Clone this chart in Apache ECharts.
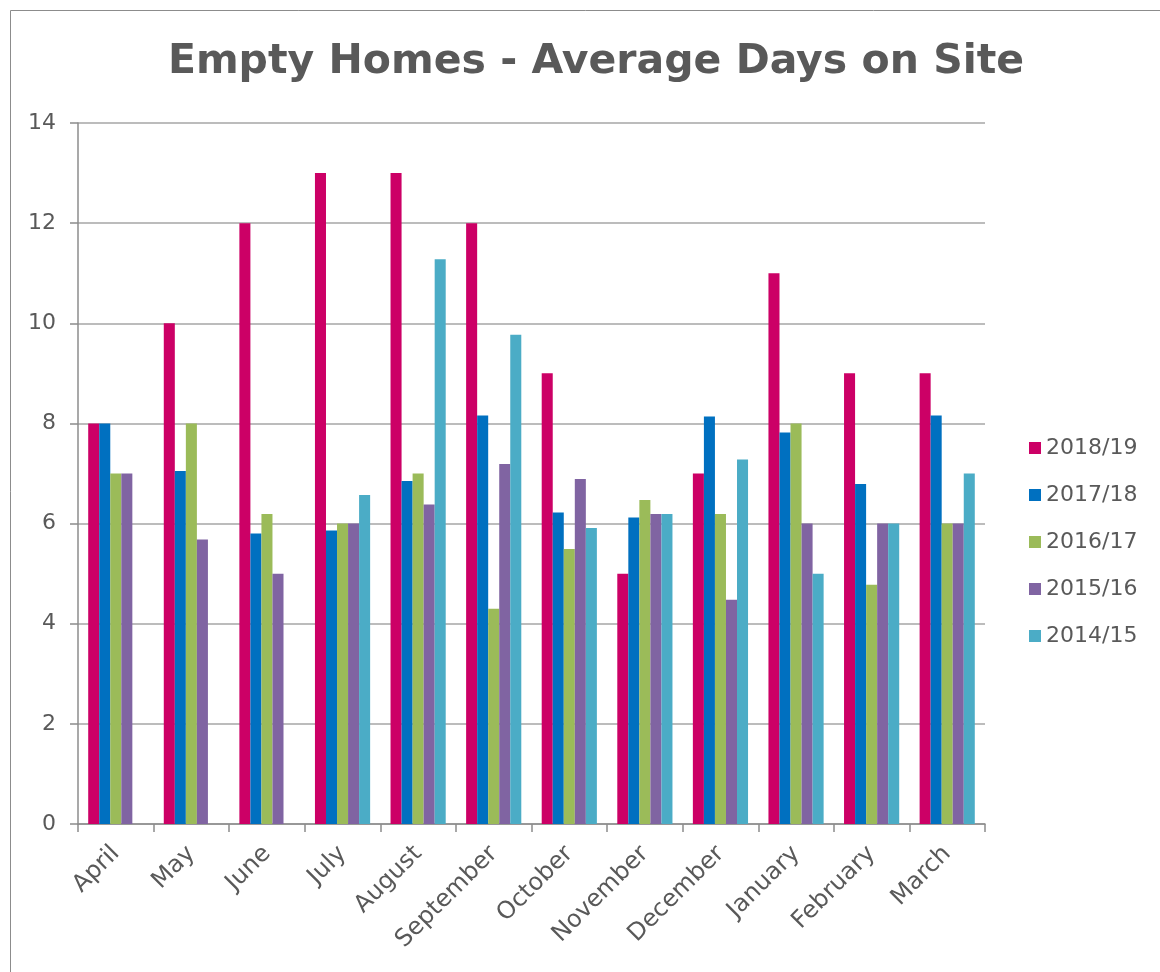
<!DOCTYPE html>
<html>
<head>
    <meta charset="utf-8">
    <title>Empty Homes - Average Days on Site</title>
    <script src="https://cdn.jsdelivr.net/npm/echarts@6.0.0/dist/echarts.min.js"></script>
    <style>
        body { margin: 0; background: #fff; }
    </style>
</head>
<body>
    <div id="main" style="width: 1160px;height:972px;"></div>
    <script type="text/javascript">
        // months and series values
        var months = ['April', 'May', 'June', 'July', 'August', 'September', 'October', 'November', 'December', 'January', 'February', 'March'];
        var y2018 = [8, 10, 12, 13, 13, 12, 9, 5, 7, 11, 9, 9];
        var y2017 = [8, 7.05, 5.8, 5.86, 6.85, 8.16, 6.22, 6.12, 8.14, 7.82, 6.79, 8.16];
        var y2016 = [7, 8, 6.19, 6, 7, 4.3, 5.49, 6.47, 6.19, 8, 4.78, 6];
        var y2015 = [7, 5.68, 5, 6, 6.38, 7.19, 6.89, 6.19, 4.48, 6, 6, 6];
        var y2014 = ['-', '-', '-', 6.57, 11.28, 9.77, 5.91, 6.19, 7.28, 5, 6, 7];
        var seriesNames = ['2018/19', '2017/18', '2016/17', '2015/16', '2014/15'];
        var colors = ['#CC0066', '#0070C0', '#9BBB59', '#8064A2', '#4BACC6'];

        var myChart = echarts.init(document.getElementById('main'));
        var font = '"DejaVu Sans", sans-serif';
        var textColor = '#595959';

        var option = {
            color: colors,
            backgroundColor: '#fff',
            title: {
                text: 'Empty Homes - Average Days on Site',
                left: 591,
                top: 37,
                textAlign: 'center',
                textStyle: { color: textColor, fontSize: 41, fontWeight: 'bold', fontFamily: font }
            },
            graphic: [{
                type: 'rect',
                shape: { x: 10.5, y: 10.5, width: 1200, height: 1000 },
                style: { fill: 'none', stroke: '#8c8c8c', lineWidth: 1 },
                silent: true
            }],
            legend: {
                orient: 'vertical',
                left: 1024,
                top: 432,
                itemWidth: 12,
                itemHeight: 12,
                itemGap: 25,
                icon: 'rect',
                textStyle: { color: textColor, fontSize: 22, fontFamily: font }
            },
            grid: { left: 78, right: 175, top: 123, bottom: 148 },
            xAxis: {
                type: 'category',
                data: months,
                axisLine: { lineStyle: { color: '#8c8c8c', width: 1.5 } },
                axisTick: { show: true, length: 8, lineStyle: { color: '#8c8c8c', width: 1.5 } },
                axisLabel: { rotate: 45, color: textColor, fontSize: 24, fontFamily: font, margin: 26, interval: 0 }
            },
            yAxis: {
                type: 'value',
                min: 0,
                max: 14,
                interval: 2,
                axisLine: { show: true, lineStyle: { color: '#8c8c8c', width: 1.5 } },
                axisTick: { show: true, length: 8, lineStyle: { color: '#8c8c8c', width: 1.5 } },
                splitLine: { lineStyle: { color: '#a6a6a6', width: 1.5 } },
                axisLabel: { color: textColor, fontSize: 22, fontFamily: font, margin: 22 }
            },
            series: [y2018, y2017, y2016, y2015, y2014].map(function (d, i) {
                return {
                    name: seriesNames[i],
                    type: 'bar',
                    data: d,
                    barGap: '0%',
                    barCategoryGap: '27%'
                };
            })
        };

        myChart.setOption(option);
    </script>
</body>
</html>
